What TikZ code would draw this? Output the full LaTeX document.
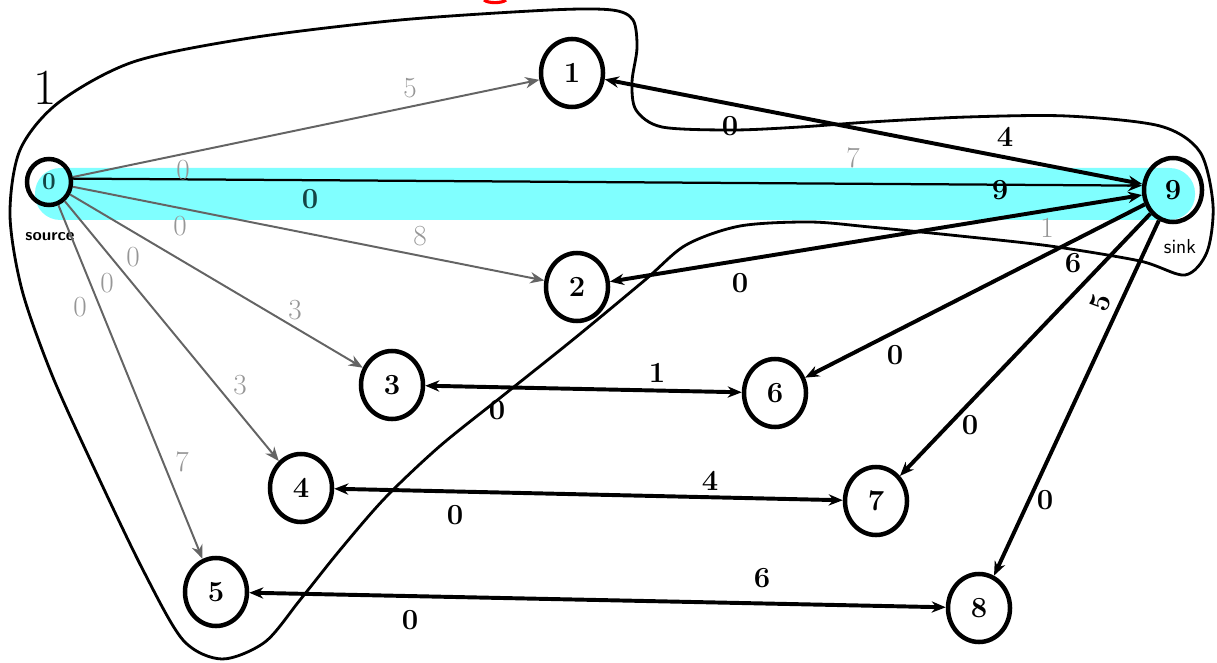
\documentclass[tikz,border=0pt]{standalone}
\usetikzlibrary{arrows.meta,calc,shapes.geometric}
\definecolor{hl}{RGB}{128,255,255}
\definecolor{eg}{RGB}{100,100,100}
\definecolor{lg}{RGB}{150,150,150}
\definecolor{tl}{RGB}{20,70,70}
\begin{document}
\begin{tikzpicture}[x=0.025cm,y=-0.025cm,
  vert/.style={ellipse,draw,line width=3.2pt,minimum width=1.55cm,minimum height=1.7cm,inner sep=0pt,font=\huge\bfseries},
  thk/.style={line width=2.8pt},
  thn/.style={line width=1.4pt,draw=eg},
  tip/.style={-{Stealth[length=10pt,width=8pt]}},
  dtip/.style={{Stealth[length=10pt,width=8pt]}-{Stealth[length=10pt,width=8pt]}},
  lab/.style={font=\huge\bfseries, inner sep=0pt},
  glab/.style={font=\huge, inner sep=0pt, text=lg},
  cut/.style={line width=2pt, line join=round}]
\useasboundingbox (0,0) rectangle (1217,663);
% highlight band
\fill[hl, rounded corners=18] (35,168) rectangle (1195,220);
% red mark at top
\draw[red, line width=2.2pt] (484,0) .. controls (488,3.5) and (502,3.5) .. (506,0);
% nodes
\node[vert, minimum width=1.1cm, minimum height=1.15cm, font=\LARGE\bfseries, text=tl] (n0) at (49,182) {0};
\node[vert] (n1) at (572,73) {1};
\node[vert] (n2) at (577,287) {2};
\node[vert] (n3) at (392,385) {3};
\node[vert] (n4) at (301,488) {4};
\node[vert] (n5) at (216,592) {5};
\node[vert] (n6) at (775,393) {6};
\node[vert] (n7) at (876,501) {7};
\node[vert] (n8) at (979,608) {8};
\node[vert, minimum width=1.45cm, minimum height=1.6cm] (n9) at (1173,190) {9};
\node[font=\large\bfseries\sffamily, inner sep=0pt] (src) at (50,237) {source};
\node[font=\Large\sffamily, inner sep=0pt] (snk) at (1180,247) {sink};
\node[font=\fontsize{36}{40}\selectfont, inner sep=0pt] (cutlab) at (45,88) {1};
% gray edges from the source
\draw[thn,tip] (n0) -- (n1);
\draw[thn,tip] (n0) -- (n2);
\draw[thn,tip] (n0) -- (n3);
\draw[thn,tip] (n0) -- (n4);
\draw[thn,tip] (n0) -- (n5);
\draw[line width=1.6pt,tip] (n0.8) -- (n9.172);
% thick edges
\draw[thk,dtip] (n1) -- (n9);
\draw[thk,dtip] (n2) -- (n9);
\draw[thk,dtip] (n3) -- (n6);
\draw[thk,dtip] (n4) -- (n7);
\draw[thk,dtip] (n5) -- (n8);
\draw[thk,tip] (n9) -- (n6);
\draw[thk,tip] (n9) -- (n7);
\draw[thk,tip] (n9) -- (n8);
% cut curve
\draw[cut] plot[smooth cycle, tension=0.5] coordinates {
 (222,659) (265,642) (300,600) (340,550) (385,498) (440,446) (505,394)
 (575,338) (645,280) (686,245) (740,226) (810,222) (870,227) (960,236)
 (1050,246) (1140,261) (1185,275) (1207,252) (1213,205) (1200,152)
 (1160,126) (1067,116) (967,117) (870,122) (800,127) (733,130) (662,127)
 (636,110) (632,82) (637,48) (633,20) (612,10) (550,10) (400,20)
 (250,38) (133,62) (58,103) (20,150) (10,215) (22,290) (52,375)
 (95,470) (143,570) (183,640)};
% gray labels
\node[glab] (g1) at (410,88) {5};
\node[glab] (g2) at (183,170) {0};
\node[glab] (g3) at (853,158) {7};
\node[glab] (g4) at (420,236) {8};
\node[glab] (g5) at (180,226) {0};
\node[glab] (g6) at (295,310) {3};
\node[glab] (g7) at (133,257) {0};
\node[glab] (g8) at (240,385) {3};
\node[glab] (g9) at (107,283) {0};
\node[glab] (g10) at (182,462) {7};
\node[glab] (g11) at (80,307) {0};
\node[glab] (g12) at (1047,228) {1};
% dark labels
\node[lab, text=tl] (d1) at (310,199) {0};
\node[lab] (d2) at (1005,137) {4};
\node[lab] (d3) at (730,126) {0};
\node[lab] (d4) at (1000,190) {9};
\node[lab] (d5) at (740,283) {0};
\node[lab] (d6) at (1073,263) {6};
\node[lab, rotate=70] (d7) at (1100,303) {5};
\node[lab] (d8) at (895,355) {0};
\node[lab] (d9) at (970,425) {0};
\node[lab] (d10) at (1045,500) {0};
\node[lab] (d11) at (657,373) {1};
\node[lab] (d12) at (497,410) {0};
\node[lab] (d13) at (710,481) {4};
\node[lab] (d14) at (455,515) {0};
\node[lab] (d15) at (762,578) {6};
\node[lab] (d16) at (410,620) {0};
\end{tikzpicture}
\end{document}
